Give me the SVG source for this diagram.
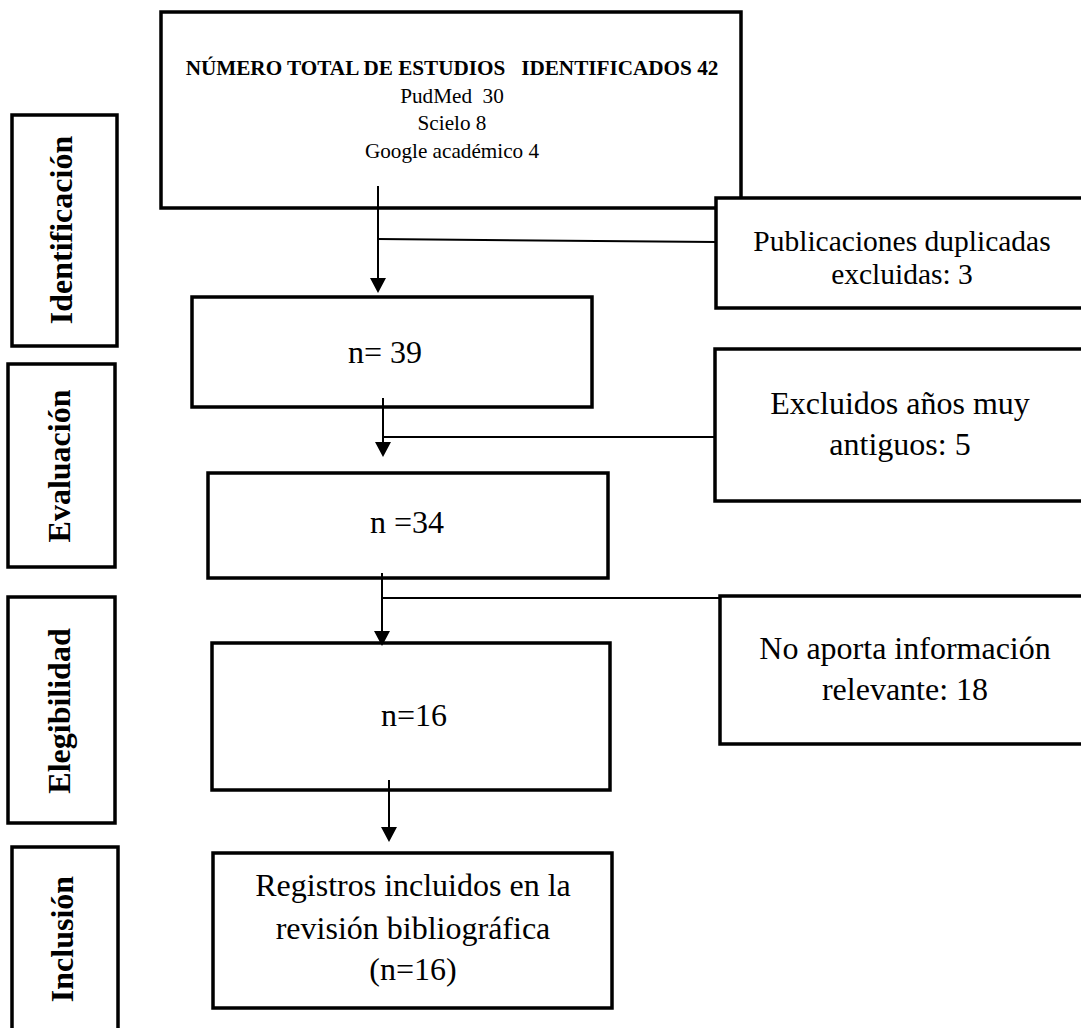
<svg xmlns="http://www.w3.org/2000/svg" width="1081" height="1028" viewBox="0 0 1081 1028">
<style>
.box{fill:#fff;stroke:#000;stroke-width:3.5}
.t{font-family:"Liberation Serif","Times New Roman",serif;fill:#000;text-anchor:middle}
.big{font-size:32px}
.mid{font-size:29.5px}
.small{font-size:21.2px}
.b{font-weight:bold}
.pre{white-space:pre}
.con{stroke:#000;stroke-width:2;fill:none}
</style>
<defs>
<marker id="arr" viewBox="0 0 15 16" markerUnits="userSpaceOnUse" markerWidth="15" markerHeight="16" refX="7" refY="8" orient="auto">
<path d="M0,0 L15,8 L0,16 Z" fill="#000"/>
</marker>
</defs>
<rect width="1081" height="1028" fill="#fff"/>

<g id="phase-identificacion">
<rect class="box" x="12" y="115" width="105" height="231"/>
<text class="t big b" transform="translate(72,230) rotate(-90)">Identificación</text>
</g>
<g id="phase-evaluacion">
<rect class="box" x="8" y="364" width="107" height="203"/>
<text class="t big b" transform="translate(70,466) rotate(-90)">Evaluación</text>
</g>
<g id="phase-elegibilidad">
<rect class="box" x="8" y="597" width="107" height="226"/>
<text class="t big b" transform="translate(70,711) rotate(-90)">Elegibilidad</text>
</g>
<g id="phase-inclusion">
<rect class="box" x="12" y="847" width="106" height="200"/>
<text class="t big b" transform="translate(73,939) rotate(-90)">Inclusión</text>
</g>

<g id="total">
<rect class="box" x="161" y="12" width="580" height="196"/>
<text class="t small b pre" x="452" y="75">NÚMERO TOTAL DE ESTUDIOS   IDENTIFICADOS 42</text>
<text class="t small pre" x="452" y="103">PudMed  30</text>
<text class="t small" x="452" y="130">Scielo 8</text>
<text class="t small" x="452" y="158">Google académico 4</text>
</g>

<g id="duplicadas">
<rect class="box" x="716" y="198" width="380" height="110"/>
<text class="t mid" x="902" y="251">Publicaciones duplicadas</text>
<text class="t mid" x="902" y="284">excluidas: 3</text>
</g>

<g id="n39">
<rect class="box" x="192" y="297" width="400" height="110"/>
<text class="t big" x="385" y="363">n= 39</text>
</g>

<g id="antiguos">
<rect class="box" x="715" y="349" width="380" height="152"/>
<text class="t big" x="900" y="414">Excluidos años muy</text>
<text class="t big" x="900" y="455">antiguos: 5</text>
</g>

<g id="n34">
<rect class="box" x="208" y="473" width="400" height="105"/>
<text class="t big" x="407" y="533">n =34</text>
</g>

<g id="noaporta">
<rect class="box" x="720" y="596" width="380" height="148"/>
<text class="t big" x="905" y="659">No aporta información</text>
<text class="t big" x="905" y="700">relevante: 18</text>
</g>

<g id="n16">
<rect class="box" x="212" y="643" width="398" height="147"/>
<text class="t big" x="414" y="726">n=16</text>
</g>

<g id="incluidos">
<rect class="box" x="213" y="853" width="399" height="155"/>
<text class="t big" x="413" y="896">Registros incluidos en la</text>
<text class="t big" x="413" y="939">revisión bibliográfica</text>
<text class="t big" x="413" y="980">(n=16)</text>
</g>

<g id="connectors">
<line class="con" x1="378" y1="186" x2="378" y2="285" marker-end="url(#arr)"/>
<line class="con" x1="378" y1="239" x2="716" y2="242"/>
<line class="con" x1="383" y1="398" x2="383" y2="449" marker-end="url(#arr)"/>
<line class="con" x1="383" y1="437" x2="715" y2="437"/>
<line class="con" x1="382" y1="573" x2="382" y2="638" marker-end="url(#arr)"/>
<line class="con" x1="382" y1="598" x2="720" y2="598"/>
<line class="con" x1="389" y1="780" x2="389" y2="834" marker-end="url(#arr)"/>
</g>
</svg>
